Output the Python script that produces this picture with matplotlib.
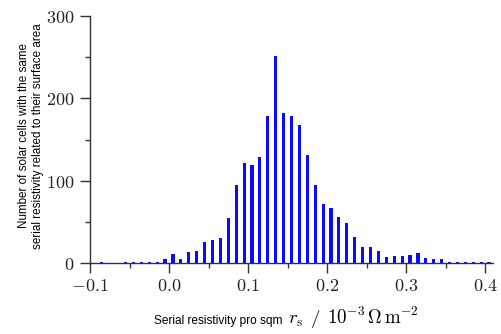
import numpy as np
import matplotlib
matplotlib.use("Agg")
import matplotlib.pyplot as plt
from matplotlib.ticker import MultipleLocator, FuncFormatter

# bin centres (width 0.01) and counts
centres = [-0.085, -0.055, -0.045, -0.035, -0.025, -0.015,
           -0.005, 0.005, 0.015, 0.025, 0.035, 0.045, 0.055, 0.065, 0.075,
           0.085, 0.095, 0.105, 0.115, 0.125, 0.135, 0.145, 0.155, 0.165,
           0.175, 0.185, 0.195, 0.205, 0.215, 0.225, 0.235, 0.245, 0.255,
           0.265, 0.275, 0.285, 0.295, 0.305, 0.315, 0.325, 0.335, 0.345,
           0.355, 0.365, 0.375, 0.385, 0.395, 0.405]
counts = [1, 1, 1, 1, 1, 1,
          5, 11, 5, 13, 14, 25, 28, 30, 55,
          95, 122, 119, 129, 178, 252, 182, 179, 168,
          131, 95, 72, 67, 56, 49, 32, 20, 20,
          14, 7, 9, 9, 10, 12, 6.5, 5, 5,
          1, 1, 1, 1, 1, 1]

xticks = [-0.1, 0.0, 0.1, 0.2, 0.3, 0.4]
yticks = [0, 100, 200, 300]

plt.rcParams['mathtext.fontset'] = 'cm'

fig = plt.figure(figsize=(5.01, 3.34), dpi=100)
ax = fig.add_axes([90/501, 71/334, 403/501, 247/334])

ax.bar(centres, counts, width=0.004, color='#0a0aff', linewidth=0)

ax.set_xlim(-0.1, 0.41)
ax.set_ylim(0, 300)
ax.spines['top'].set_visible(False)
ax.spines['right'].set_visible(False)
for s in ['left', 'bottom']:
    ax.spines[s].set_color('#333333')
    ax.spines[s].set_linewidth(1.0)

ax.set_xticks(xticks)
ax.set_yticks(yticks)
ax.xaxis.set_minor_locator(MultipleLocator(0.05))
ax.yaxis.set_minor_locator(MultipleLocator(50))
ax.xaxis.set_major_formatter(FuncFormatter(lambda v, p: r'$%.1f$' % v))
ax.yaxis.set_major_formatter(FuncFormatter(lambda v, p: r'$%d$' % v))
ax.tick_params(which='major', length=7, width=1, color='#333333',
               labelsize=13, labelcolor='#222222')
ax.tick_params(which='minor', length=3.5, width=1, color='#333333')
ax.tick_params(axis='y', which='major', pad=4)
ax.tick_params(axis='x', which='major', pad=3)

sans = 'Liberation Sans'
fig.text(283/501, 1 - 324/334, 'Serial resistivity pro sqm', family=sans,
         fontsize=8.6, ha='right', va='baseline')
fig.text(288/501, 1 - 324/334,
         r'$r_\mathrm{s}\;\,/\;\,10^{-3}\,\Omega\,\mathrm{m}^{-2}$',
         fontsize=13.6, ha='left', va='baseline')

fig.text(31/501, 1 - 136/334,
         'Number of solar cells with the same\nserial resistivity related to their surface area',
         family=sans, fontsize=8.4, rotation=90, ha='center', va='center',
         multialignment='center', linespacing=1.3)

fig.savefig('out.png', dpi=100)
